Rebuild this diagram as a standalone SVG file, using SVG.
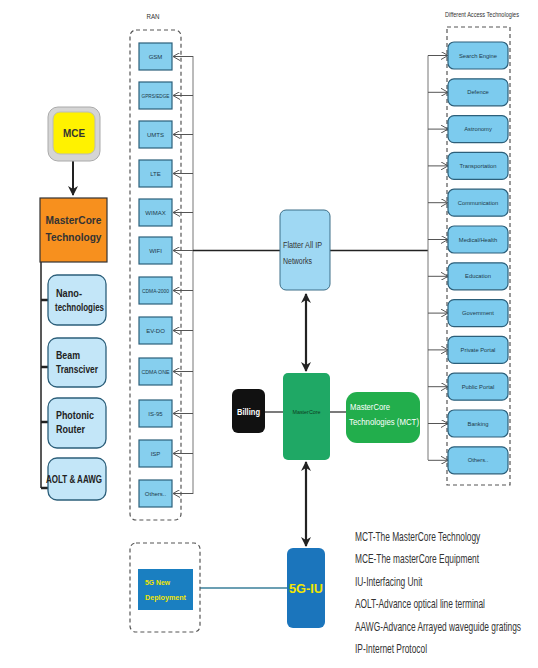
<svg xmlns="http://www.w3.org/2000/svg" width="538" height="668" viewBox="0 0 538 668">
<style>
text{font-family:"Liberation Sans",Arial,sans-serif;}
.ran{fill:#86cfee;stroke:#2c5f7a;stroke-width:1.2;}
.rt{font-size:6px;fill:#1d3a4a;text-anchor:middle;}
.acc{fill:#7ccbee;stroke:#2c5f7a;stroke-width:1.2;}
.at{font-size:5.8px;fill:#1d3a4a;text-anchor:middle;}
.kid{fill:#c3e6f8;stroke:#2c5f7a;stroke-width:1.3;}
.kt{font-size:10px;font-weight:bold;fill:#222;}
.dash{fill:none;stroke:#555;stroke-width:1.2;stroke-dasharray:4 3;}
.bus{fill:none;stroke:#777;stroke-width:1;}
.arr{fill:none;stroke:#555;stroke-width:1;marker-end:url(#open);}
.thick{fill:none;stroke:#222;}
.leg{font-size:13.5px;fill:#333;}
</style>
<defs>
<marker id="open" viewBox="0 0 8 8" refX="7" refY="4" markerWidth="8" markerHeight="8" markerUnits="userSpaceOnUse" orient="auto">
<path d="M0,0 L7,4 L0,8" fill="none" stroke="#555" stroke-width="1"/>
</marker>
<marker id="solid" viewBox="0 0 10 10" refX="9" refY="5" markerWidth="10" markerHeight="10" markerUnits="userSpaceOnUse" orient="auto-start-reverse">
<path d="M0,0 L10,5 L0,10 L3,5 Z" fill="#222"/>
</marker>
</defs>
<rect width="538" height="668" fill="#fff"/>

<g id="connectors">
<line x1="73" y1="160" x2="73" y2="195" stroke="#222" stroke-width="2" marker-end="url(#solid)"/>
<path class="thick" d="M41,262 V488" stroke-width="1.5"/>
<path class="thick" d="M41,300 H48 M41,367 H48 M41,422 H48 M41,488 H48" stroke-width="2.5"/>
<line class="bus" x1="193" y1="56" x2="193" y2="494"/>
<line class="arr" x1="193" y1="56.5" x2="173" y2="56.5"/>
<line class="arr" x1="193" y1="95.5" x2="173" y2="95.5"/>
<line class="arr" x1="193" y1="134.5" x2="173" y2="134.5"/>
<line class="arr" x1="193" y1="173.5" x2="173" y2="173.5"/>
<line class="arr" x1="193" y1="212.5" x2="173" y2="212.5"/>
<line class="arr" x1="193" y1="250.5" x2="173" y2="250.5"/>
<line class="arr" x1="193" y1="290.5" x2="173" y2="290.5"/>
<line class="arr" x1="193" y1="330.5" x2="173" y2="330.5"/>
<line class="arr" x1="193" y1="371.5" x2="173" y2="371.5"/>
<line class="arr" x1="193" y1="413.5" x2="173" y2="413.5"/>
<line class="arr" x1="193" y1="453.5" x2="173" y2="453.5"/>
<line class="arr" x1="193" y1="493.5" x2="173" y2="493.5"/>
<line x1="193" y1="250.5" x2="280" y2="250.5" stroke="#222" stroke-width="1.3"/>
<line x1="330" y1="250.5" x2="428" y2="250.5" stroke="#222" stroke-width="1.3"/>
<line class="bus" x1="428" y1="55.5" x2="428" y2="460"/>
<line class="arr" x1="428" y1="55.5" x2="448" y2="55.5"/>
<line class="arr" x1="428" y1="92.3" x2="448" y2="92.3"/>
<line class="arr" x1="428" y1="129.1" x2="448" y2="129.1"/>
<line class="arr" x1="428" y1="165.9" x2="448" y2="165.9"/>
<line class="arr" x1="428" y1="202.7" x2="448" y2="202.7"/>
<line class="arr" x1="428" y1="239.5" x2="448" y2="239.5"/>
<line class="arr" x1="428" y1="276.3" x2="448" y2="276.3"/>
<line class="arr" x1="428" y1="313.1" x2="448" y2="313.1"/>
<line class="arr" x1="428" y1="349.9" x2="448" y2="349.9"/>
<line class="arr" x1="428" y1="386.7" x2="448" y2="386.7"/>
<line class="arr" x1="428" y1="423.5" x2="448" y2="423.5"/>
<line class="arr" x1="428" y1="460.3" x2="448" y2="460.3"/>
<line x1="306" y1="294" x2="306" y2="371" stroke="#222" stroke-width="2.2" marker-start="url(#solid)" marker-end="url(#solid)"/>
<line x1="306" y1="462" x2="306" y2="546" stroke="#222" stroke-width="2.2" marker-start="url(#solid)" marker-end="url(#solid)"/>
<line x1="265" y1="412" x2="283" y2="412" stroke="#333" stroke-width="1.3"/>
<line x1="330" y1="412" x2="346" y2="412" stroke="#333" stroke-width="1.3"/>
<line x1="200" y1="588" x2="287" y2="588" stroke="#3a7f9a" stroke-width="1.5"/>
</g>

<g id="mce">
<rect x="48" y="107" width="52" height="54" rx="10" fill="#d5d5d5" stroke="#aaa"/>
<rect x="53" y="112" width="42" height="42" rx="7" fill="#fff200" stroke="#bbb"/>
<text x="74" y="137" font-size="11" font-weight="bold" fill="#333" text-anchor="middle" textLength="22" lengthAdjust="spacingAndGlyphs">MCE</text>
</g>
<g id="mct-left">
<rect x="40" y="198" width="67" height="64" fill="#f7901e" stroke="#333" stroke-width="1.2"/>
<text x="73.5" y="224" font-size="11" font-weight="bold" fill="#333" text-anchor="middle" textLength="56" lengthAdjust="spacingAndGlyphs">MasterCore</text>
<text x="73.5" y="241" font-size="11" font-weight="bold" fill="#333" text-anchor="middle" textLength="56" lengthAdjust="spacingAndGlyphs">Technology</text>
</g>
<g id="nano">
<rect class="kid" x="48" y="275" width="58" height="50" rx="9"/>
<text class="kt" x="56" y="297" textLength="26" lengthAdjust="spacingAndGlyphs">Nano-</text>
<text class="kt" x="55" y="311" textLength="49" lengthAdjust="spacingAndGlyphs">technologies</text>
</g>
<g id="beam">
<rect class="kid" x="48" y="338" width="58" height="49" rx="9"/>
<text class="kt" x="56" y="359" textLength="24" lengthAdjust="spacingAndGlyphs">Beam</text>
<text class="kt" x="56" y="373" textLength="42" lengthAdjust="spacingAndGlyphs">Transciver</text>
</g>
<g id="photonic">
<rect class="kid" x="48" y="398" width="58" height="50" rx="9"/>
<text class="kt" x="56" y="419" textLength="38" lengthAdjust="spacingAndGlyphs">Photonic</text>
<text class="kt" x="56" y="433" textLength="29" lengthAdjust="spacingAndGlyphs">Router</text>
</g>
<g id="aolt">
<rect class="kid" x="48" y="458" width="58" height="42" rx="9"/>
<text class="kt" x="74" y="483" text-anchor="middle" textLength="56" lengthAdjust="spacingAndGlyphs">AOLT &amp; AAWG</text>
</g>

<g id="ran">
<text x="153" y="19" font-size="8" fill="#333" text-anchor="middle" textLength="13" lengthAdjust="spacingAndGlyphs">RAN</text>
<rect class="dash" x="130" y="30" width="51" height="490" rx="6"/>
</g>
<g id="gsm"><rect class="ran" x="139" y="43" width="33" height="27"/><text class="rt" x="155.5" y="58.5">GSM</text></g>
<g id="gprs"><rect class="ran" x="139" y="82" width="33" height="27"/><text class="rt" x="155.5" y="97.5" textLength="28" lengthAdjust="spacingAndGlyphs">GPRS/EDGE</text></g>
<g id="umts"><rect class="ran" x="139" y="121" width="33" height="27"/><text class="rt" x="155.5" y="136.5">UMTS</text></g>
<g id="lte"><rect class="ran" x="139" y="160" width="33" height="27"/><text class="rt" x="155.5" y="175.5">LTE</text></g>
<g id="wimax"><rect class="ran" x="139" y="199" width="33" height="27"/><text class="rt" x="155.5" y="214.5">WIMAX</text></g>
<g id="wifi"><rect class="ran" x="139" y="237" width="33" height="27"/><text class="rt" x="155.5" y="252.5">WIFI</text></g>
<g id="cdma2000"><rect class="ran" x="139" y="277" width="33" height="27"/><text class="rt" x="155.5" y="292.5" textLength="27" lengthAdjust="spacingAndGlyphs">CDMA-2000</text></g>
<g id="evdo"><rect class="ran" x="139" y="317" width="33" height="27"/><text class="rt" x="155.5" y="332.5">EV-DO</text></g>
<g id="cdmaone"><rect class="ran" x="139" y="358" width="33" height="27"/><text class="rt" x="155.5" y="373.5" textLength="28" lengthAdjust="spacingAndGlyphs">CDMA ONE</text></g>
<g id="is95"><rect class="ran" x="139" y="400" width="33" height="27"/><text class="rt" x="155.5" y="415.5">IS-95</text></g>
<g id="isp"><rect class="ran" x="139" y="440" width="33" height="27"/><text class="rt" x="155.5" y="455.5">ISP</text></g>
<g id="others-ran"><rect class="ran" x="139" y="480" width="33" height="27"/><text class="rt" x="155.5" y="495.5">Others..</text></g>

<g id="flatter">
<rect x="280" y="210" width="50" height="80" rx="6" fill="#9fd8f3" stroke="#3d6f88" stroke-width="1"/>
<text x="283" y="248" font-size="8.5" fill="#333" textLength="39" lengthAdjust="spacingAndGlyphs">Flatter All IP</text>
<text x="283" y="264" font-size="8.5" fill="#333" textLength="29" lengthAdjust="spacingAndGlyphs">Networks</text>
</g>
<g id="billing">
<rect x="232" y="389" width="33" height="44" rx="6" fill="#111"/>
<text x="248.5" y="415" font-size="9" font-weight="bold" fill="#fff" text-anchor="middle" textLength="23" lengthAdjust="spacingAndGlyphs">Billing</text>
</g>
<g id="mastercore">
<rect x="283" y="373" width="47" height="87" rx="5" fill="#1fa865"/>
<text x="306.5" y="414" font-size="5.5" fill="#0d3d22" text-anchor="middle" textLength="28" lengthAdjust="spacingAndGlyphs">MasterCore</text>
</g>
<g id="mct">
<rect x="346" y="392" width="74" height="51" rx="11" fill="#22ae4c"/>
<text x="350" y="410" font-size="9.5" fill="#fff" textLength="40" lengthAdjust="spacingAndGlyphs">MasterCore</text>
<text x="349" y="425" font-size="9.5" fill="#fff" textLength="70" lengthAdjust="spacingAndGlyphs">Technologies (MCT)</text>
</g>
<g id="fiveg-new">
<rect class="dash" x="130" y="543" width="70" height="89" rx="6"/>
<rect x="138" y="569" width="55" height="41" fill="#1a7fc1"/>
<text x="145" y="585" font-size="8" font-weight="bold" fill="#f3e600" textLength="25" lengthAdjust="spacingAndGlyphs">5G New</text>
<text x="145" y="600" font-size="8" font-weight="bold" fill="#f3e600" textLength="41" lengthAdjust="spacingAndGlyphs">Deployment</text>
</g>
<g id="fiveg-iu">
<rect x="287" y="548" width="38" height="80" rx="6" fill="#1b75bc"/>
<text x="306" y="593" font-size="12" font-weight="bold" fill="#f3e600" text-anchor="middle" textLength="34" lengthAdjust="spacingAndGlyphs">5G-IU</text>
</g>

<g id="access">
<text x="482" y="17" font-size="7" fill="#333" text-anchor="middle" textLength="74" lengthAdjust="spacingAndGlyphs">Different Access Technologies</text>
<rect class="dash" x="447" y="27" width="63" height="458"/>
</g>
<g id="search"><rect class="acc" x="448" y="42" width="60" height="27" rx="6"/><text class="at" x="478" y="57.5">Search Engine</text></g>
<g id="defence"><rect class="acc" x="448" y="78.8" width="60" height="27" rx="6"/><text class="at" x="478" y="94.3">Defence</text></g>
<g id="astronomy"><rect class="acc" x="448" y="115.6" width="60" height="27" rx="6"/><text class="at" x="478" y="131.1">Astronomy</text></g>
<g id="transport"><rect class="acc" x="448" y="152.4" width="60" height="27" rx="6"/><text class="at" x="478" y="167.9">Transportation</text></g>
<g id="comm"><rect class="acc" x="448" y="189.2" width="60" height="27" rx="6"/><text class="at" x="478" y="204.7">Communication</text></g>
<g id="medical"><rect class="acc" x="448" y="226" width="60" height="27" rx="6"/><text class="at" x="478" y="241.5">Medical/Health</text></g>
<g id="education"><rect class="acc" x="448" y="262.8" width="60" height="27" rx="6"/><text class="at" x="478" y="278.3">Education</text></g>
<g id="government"><rect class="acc" x="448" y="299.6" width="60" height="27" rx="6"/><text class="at" x="478" y="315.1">Government</text></g>
<g id="private"><rect class="acc" x="448" y="336.4" width="60" height="27" rx="6"/><text class="at" x="478" y="351.9">Private Portal</text></g>
<g id="public"><rect class="acc" x="448" y="373.2" width="60" height="27" rx="6"/><text class="at" x="478" y="388.7">Public Portal</text></g>
<g id="banking"><rect class="acc" x="448" y="410" width="60" height="27" rx="6"/><text class="at" x="478" y="425.5">Banking</text></g>
<g id="others-acc"><rect class="acc" x="448" y="446.8" width="60" height="27" rx="6"/><text class="at" x="478" y="462.3">Others..</text></g>

<g id="legend" transform="translate(355,0) scale(0.62,1)">
<text class="leg" x="0" y="541">MCT-The MasterCore Technology</text>
<text class="leg" x="0" y="563">MCE-The masterCore Equipment</text>
<text class="leg" x="0" y="586">IU-Interfacing Unit</text>
<text class="leg" x="0" y="608">AOLT-Advance optical line terminal</text>
<text class="leg" x="0" y="631">AAWG-Advance Arrayed waveguide gratings</text>
<text class="leg" x="0" y="653">IP-Internet Protocol</text>
</g>
</svg>
